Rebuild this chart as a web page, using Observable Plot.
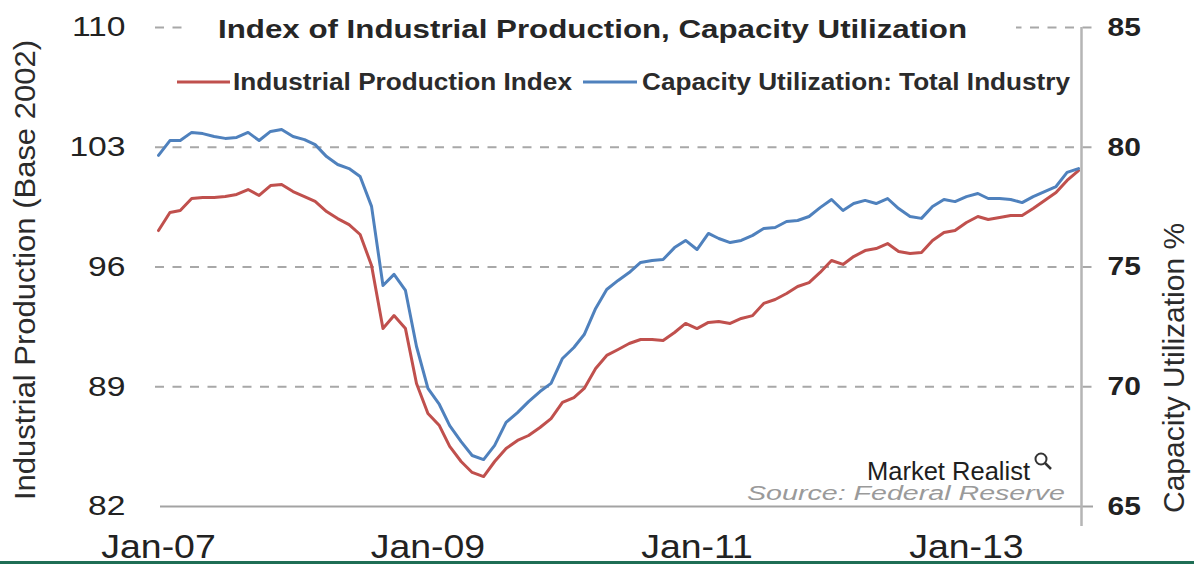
<!DOCTYPE html>
<html><head><meta charset="utf-8">
<script src="https://cdn.jsdelivr.net/npm/d3@7"></script>
<script src="https://cdn.jsdelivr.net/npm/@observablehq/plot@0.6"></script>
<style>
html,body{margin:0;padding:0;background:#fff;}
#wrap{position:relative;width:1194px;height:564px;overflow:hidden;background:#fff;}
#wrap svg{position:absolute;left:0;top:0;}
#strip{position:absolute;left:0;top:561px;width:1194px;height:3px;background:#1f6e55;}
</style></head><body>
<div id="wrap"></div>
<script>
// ---- data (monthly, Jan 2007 onward) ----
const startYear = 2007, startMonthIndex = 0;
const ipIndex = [
  98.13, 99.19, 99.30, 100.00, 100.06, 100.06, 100.12, 100.24, 100.53, 100.18,
  100.76, 100.82, 100.41, 100.12, 99.83, 99.24, 98.83, 98.48, 97.90, 96.09,
  92.40, 93.16, 92.40, 89.19, 87.44, 86.73, 85.51, 84.63, 83.99, 83.75,
  84.63, 85.39, 85.86, 86.15, 86.62, 87.14, 88.08, 88.37, 88.90, 90.07,
  90.83, 91.18, 91.53, 91.76, 91.76, 91.70, 92.17, 92.70, 92.40, 92.76,
  92.81, 92.70, 92.99, 93.16, 93.87, 94.10, 94.45, 94.86, 95.09, 95.68,
  96.38, 96.15, 96.61, 96.96, 97.08, 97.37, 96.91, 96.79, 96.85, 97.55,
  98.02, 98.13, 98.60, 98.95, 98.78, 98.89, 99.01, 99.01, 99.42, 99.89,
  100.35, 101.06, 101.64
];
const capUtil = [
  79.66, 80.28, 80.28, 80.62, 80.57, 80.45, 80.37, 80.41, 80.62, 80.28,
  80.66, 80.74, 80.45, 80.32, 80.11, 79.61, 79.28, 79.11, 78.78, 77.53,
  74.23, 74.69, 74.02, 71.68, 69.93, 69.26, 68.38, 67.71, 67.13, 66.96,
  67.55, 68.51, 68.92, 69.38, 69.80, 70.14, 71.18, 71.64, 72.18, 73.27,
  74.06, 74.44, 74.77, 75.19, 75.27, 75.31, 75.81, 76.11, 75.73, 76.40,
  76.19, 76.02, 76.11, 76.32, 76.61, 76.65, 76.90, 76.94, 77.11, 77.48,
  77.82, 77.36, 77.65, 77.78, 77.65, 77.86, 77.44, 77.11, 77.03, 77.53,
  77.82, 77.73, 77.94, 78.07, 77.86, 77.86, 77.82, 77.69, 77.94, 78.15,
  78.36, 78.95, 79.11
];
const leftTicks = [82, 89, 96, 103, 110];
const rightTicks = [65, 70, 75, 80, 85];
const xTickLabels = ["Jan-07", "Jan-09", "Jan-11", "Jan-13"];
const seriesNames = ["Industrial Production Index", "Capacity Utilization: Total Industry"];
const seriesColors = ["#c0504d", "#4f81bd"];
const titleText = "Index of Industrial Production, Capacity Utilization";
const leftLabel = "Industrial Production (Base 2002)";
const rightLabel = "Capacity Utilization %";
const sourceText = "Source: Federal Reserve";
const brandText = "Market Realist";

// ---- derived ----
const start = new Date(Date.UTC(startYear, startMonthIndex, 1));
const months = d3.utcMonth.range(start, d3.utcMonth.offset(start, ipIndex.length));
const rows = months.map((date, i) => ({date, ip: ipIndex[i], cu: capUtil[i]}));
const ipDomain = [leftTicks[0], leftTicks[leftTicks.length - 1]];
const cuDomain = [rightTicks[0], rightTicks[rightTicks.length - 1]];
const cuToIp = v => ipDomain[0] + (v - cuDomain[0]) * (ipDomain[1] - ipDomain[0]) / (cuDomain[1] - cuDomain[0]);
const fmtX = d3.utcFormat("%b-%y");
const parseX = d3.utcParse("%b-%y");
const xTicks = xTickLabels.map(parseX);

const FONT = "'Liberation Sans', Arial, sans-serif";

const chart = Plot.plot({
  width: 1194, height: 564,
  marginLeft: 155, marginRight: 113, marginTop: 27, marginBottom: 58,
  style: {fontFamily: FONT, background: "transparent", overflow: "visible", color: "#222"},
  x: {type: "utc", domain: [months[0], months[months.length - 1]], insetLeft: 3, insetRight: 3},
  y: {domain: ipDomain},
  marks: [
    Plot.ruleY(leftTicks.slice(1), {stroke: "#a8a8a8", strokeWidth: 2, strokeDasharray: "9,8.5", insetRight: -12}),
    Plot.ruleY([leftTicks[0]], {stroke: "#a3a3a3", strokeWidth: 2, insetLeft: 5, insetRight: -12}),
    Plot.ruleX([months[months.length - 1]], {dx: 3, stroke: "#b5b5b5", strokeWidth: 2.5, insetBottom: -20}),
    Plot.axisY({anchor: "left", ticks: leftTicks, tickSize: 0, tickPadding: 30, fontSize: 28, fill: "#222", label: null, tickFormat: d => String(d)}),
    Plot.axisY({anchor: "right", ticks: rightTicks.map(cuToIp), tickSize: 0, tickPadding: 26, fontSize: 26, fontWeight: "bold", fill: "#222", label: null,
      tickFormat: (d, i) => String(rightTicks[i])}),
    Plot.axisX({ticks: xTicks, tickFormat: fmtX, tickSize: 0, tickPadding: 27, fontSize: 34, fill: "#222", label: null}),
    Plot.line(rows, {x: "date", y: "ip", stroke: seriesColors[0], strokeWidth: 3, strokeLinejoin: "round"}),
    Plot.line(rows, {x: "date", y: d => cuToIp(d.cu), stroke: seriesColors[1], strokeWidth: 3, strokeLinejoin: "round"})
  ]
});

const wrap = document.getElementById("wrap");
wrap.appendChild(chart);

function stretch(el, factor) {
  const L = el.getComputedTextLength();
  if (L > 0) {
    el.setAttribute("textLength", (L * factor).toFixed(1));
    el.setAttribute("lengthAdjust", "spacingAndGlyphs");
  }
}
chart.querySelectorAll('g[aria-label="y-axis tick label"]').forEach(g => {
  const anchor = g.getAttribute("text-anchor");
  g.querySelectorAll("text").forEach(t => stretch(t, anchor === "end" ? 1.2 : 1.15));
});
chart.querySelectorAll('g[aria-label="x-axis tick label"] text').forEach(t => stretch(t, 1.1));

// ---- overlay annotations ----
const ov = d3.create("svg").attr("width", 1194).attr("height", 564)
  .style("font-family", FONT).style("pointer-events", "none");

ov.append("rect").attr("x", 188).attr("y", 12).attr("width", 828).attr("height", 30).attr("fill", "#fff");
ov.append("text").attr("x", 592.5).attr("y", 38).attr("text-anchor", "middle")
  .attr("font-size", 25).attr("font-weight", "bold").attr("fill", "#262626")
  .attr("textLength", 749).attr("lengthAdjust", "spacingAndGlyphs").text(titleText);

const legendItems = [
  {x1: 177, x2: 230, tx: 233, len: 339},
  {x1: 583, x2: 637, tx: 642, len: 428}
];
legendItems.forEach((it, i) => {
  ov.append("line").attr("x1", it.x1).attr("x2", it.x2).attr("y1", 82).attr("y2", 82)
    .attr("stroke", seriesColors[i]).attr("stroke-width", 3);
  ov.append("text").attr("x", it.tx).attr("y", 90).attr("font-size", 23).attr("font-weight", "bold")
    .attr("fill", "#2b2b2b").attr("textLength", it.len).attr("lengthAdjust", "spacingAndGlyphs").text(seriesNames[i]);
});

ov.append("text").attr("transform", "translate(35,270) rotate(-90)").attr("text-anchor", "middle")
  .attr("font-size", 30).attr("fill", "#2b2b2b").attr("textLength", 460).attr("lengthAdjust", "spacingAndGlyphs")
  .text(leftLabel);
ov.append("text").attr("transform", "translate(1184,513) rotate(-90)").attr("text-anchor", "start")
  .attr("font-size", 30).attr("fill", "#2b2b2b").text(rightLabel);

ov.append("text").attr("x", 867).attr("y", 480).attr("font-size", 25).attr("fill", "#1e1e1e")
  .attr("textLength", 163).attr("lengthAdjust", "spacingAndGlyphs").text(brandText);
ov.append("circle").attr("cx", 1041).attr("cy", 459).attr("r", 5.5).attr("fill", "none").attr("stroke", "#333").attr("stroke-width", 2);
ov.append("line").attr("x1", 1045).attr("y1", 463).attr("x2", 1051).attr("y2", 469).attr("stroke", "#333").attr("stroke-width", 2.5);

ov.append("text").attr("x", 747).attr("y", 500).attr("font-size", 20).attr("font-style", "italic").attr("fill", "#9a9a9a")
  .attr("textLength", 318).attr("lengthAdjust", "spacingAndGlyphs").text(sourceText);

wrap.appendChild(ov.node());

const strip = document.createElement("div");
strip.id = "strip";
wrap.appendChild(strip);
</script></body></html>
